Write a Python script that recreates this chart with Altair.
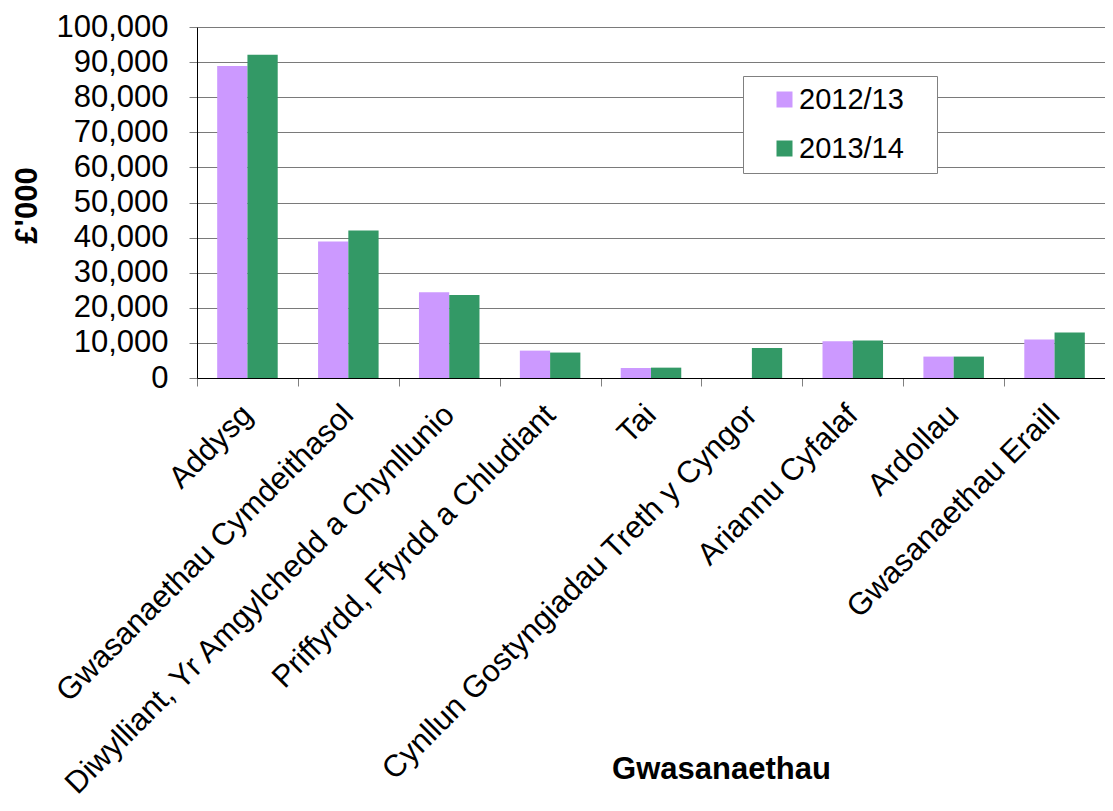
import altair as alt
import pandas as pd

categories = [
    "Addysg",
    "Gwasanaethau Cymdeithasol",
    "Diwylliant, Yr Amgylchedd a Chynllunio",
    "Priffyrdd, Ffyrdd a Chludiant",
    "Tai",
    "Cynllun Gostyngiadau Treth y Cyngor",
    "Ariannu Cyfalaf",
    "Ardollau",
    "Gwasanaethau Eraill",
]
years = ["2012/13", "2013/14"]
values_2012_13 = [88900, 38900, 24400, 7800, 2850, 0, 10450, 6100, 10950]
values_2013_14 = [92100, 42050, 23650, 7250, 2950, 8550, 10650, 6100, 12950]
colors = ["#CC99FF", "#339966"]
y_ticks = list(range(0, 100001, 10000))

rows = []
for c, a, b in zip(categories, values_2012_13, values_2013_14):
    rows.append({"Gwasanaeth": c, "Blwyddyn": years[0], "Gwerth": a})
    rows.append({"Gwasanaeth": c, "Blwyddyn": years[1], "Gwerth": b})
df = pd.DataFrame(rows)

FONT = "Liberation Sans"

chart = alt.Chart(df).mark_bar().encode(
    x=alt.X(
        "Gwasanaeth:N",
        sort=categories,
        scale=alt.Scale(paddingInner=0, paddingOuter=0),
        axis=alt.Axis(
            title="Gwasanaethau",
            labelAngle=-45,
            labelAlign="right",
            labelBaseline="middle",
            labelFontSize=31,
            labelColor="black",
            labelPadding=24,
            labelLimit=1000,
            tickBand="extent",
            tickSize=8,
            tickColor="#808080",
            domainColor="black",
            titleFontSize=31,
            titleFontWeight="bold",
            titleColor="black",
            titleX=524,
            titleY=400,
            titleBaseline="alphabetic",
            titleAlign="center",
            grid=False,
        ),
    ),
    xOffset=alt.XOffset(
        "Blwyddyn:N",
        sort=years,
        scale=alt.Scale(paddingInner=0, paddingOuter=0.667),
    ),
    y=alt.Y(
        "Gwerth:Q",
        scale=alt.Scale(domain=[0, 100000], nice=False),
        axis=alt.Axis(
            title="£'000",
            values=y_ticks,
            format=",d",
            labelFontSize=31,
            labelColor="black",
            labelPadding=21,
            tickSize=8,
            tickColor="#808080",
            domainColor="black",
            gridColor="#7a7a7a",
            gridWidth=1,
            titleFontSize=31,
            titleFontWeight="bold",
            titleColor="black",
            titleX=-170,
            titleY=178,
            titleBaseline="middle",
            titleAlign="center",
            titleAngle=-90,
        ),
    ),
    color=alt.Color(
        "Blwyddyn:N",
        sort=years,
        scale=alt.Scale(domain=years, range=colors),
        legend=alt.Legend(
            title=None,
            orient="none",
            legendX=546,
            legendY=49,
            symbolType="square",
            symbolSize=256,
            symbolStrokeWidth=0,
            symbolOffset=18,
            labelFontSize=29,
            labelColor="black",
            labelOffset=0,
            labelExpr="datum.label + '\u00a0\u00a0\u00a0\u200b'",
            rowPadding=19,
            padding=9,
            fillColor="white",
            strokeColor="#808080",
        ),
    ),
).properties(
    width=908,
    height=351,
    autosize=alt.AutoSizeParams(type="none"),
    padding={"left": 189, "top": 19, "right": 0, "bottom": 425},
).configure(
    font=FONT,
).configure_view(
    stroke=None,
)

chart.save("out.html", embed_options={"renderer": "svg", "actions": False})
